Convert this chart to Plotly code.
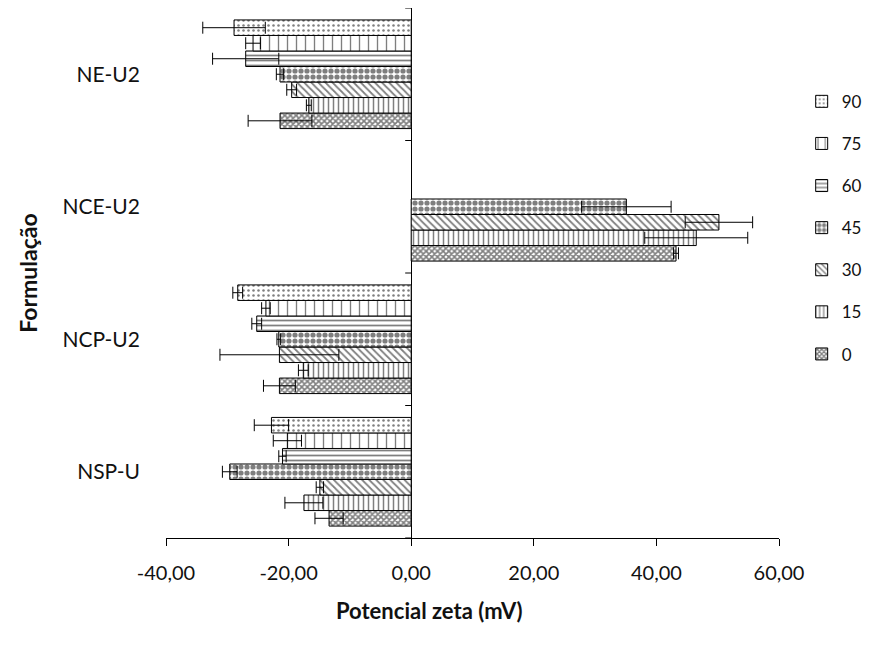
import plotly.graph_objects as go

categories = ["NSP-U", "NCP-U2", "NCE-U2", "NE-U2"]
series_names = ["0", "15", "30", "45", "60", "75", "90"]

values = {
    "0":  [-13.4, -21.5, 43.2, -21.4],
    "15": [-17.5, -17.6, 46.5, -16.7],
    "30": [-14.9, -21.5, 50.2, -19.5],
    "45": [-29.6, -21.6, 35.1, -21.4],
    "60": [-21.0, -25.2, None, -27.0],
    "75": [-20.2, -23.7, None, -25.8],
    "90": [-22.8, -28.3, None, -28.9],
}
errors = {
    "0":  [2.3, 2.6, 0.4, 5.2],
    "15": [3.1, 0.8, 8.4, 0.4],
    "30": [0.6, 9.7, 5.5, 0.8],
    "45": [1.2, 0.3, 7.3, 0.6],
    "60": [0.6, 0.8, None, 5.4],
    "75": [2.3, 0.7, None, 1.2],
    "90": [2.8, 0.8, None, 5.1],
}
x_ticks = [-40, -20, 0, 20, 40, 60]
x_tick_labels = ["-40,00", "-20,00", "0,00", "20,00", "40,00", "60,00"]
x_title = "Potencial zeta (mV)"
y_title = "Formulação"

patterns = {
    "0":  dict(shape="x", size=4, solidity=0.65),
    "15": dict(shape="|", size=5, solidity=0.3),
    "30": dict(shape="\\", size=5, solidity=0.35),
    "45": dict(shape=".", size=6, solidity=0.6),
    "60": dict(shape="-", size=5, solidity=0.35),
    "75": dict(shape="|", size=9, solidity=0.15),
    "90": dict(shape=".", size=5, solidity=0.2),
}

fig = go.Figure()
for i, name in enumerate(series_names):
    p = patterns[name]
    fig.add_trace(go.Bar(
        y=categories, x=values[name], name=name, orientation="h",
        legendgroup=name, legendrank=100 - i,
        marker=dict(color="white", line=dict(color="black", width=1),
                    pattern=dict(shape=p["shape"], size=p["size"], solidity=p["solidity"],
                                 fgcolor="black", bgcolor="white")),
        error_x=dict(type="data", array=errors[name], visible=True,
                     color="black", thickness=1, width=6),
    ))

boundaries = [i - 0.5 for i in range(len(categories) + 1)]
shapes = [dict(type="line", xref="x", yref="y", xsizemode="pixel", xanchor=0,
               x0=-6, x1=0, y0=b, y1=b, line=dict(color="black", width=1))
          for b in boundaries]

fig.update_layout(
    width=878, height=651,
    margin=dict(l=166, r=99, t=8, b=113, autoexpand=False),
    paper_bgcolor="white", plot_bgcolor="white",
    barmode="group", bargap=0.18, bargroupgap=0,
    font=dict(family="Lato, Open Sans, sans-serif", size=20, color="#111"),
    xaxis=dict(range=[-40, 60], tickvals=x_ticks, ticktext=x_tick_labels,
               showline=True, linecolor="black", linewidth=1,
               ticks="outside", ticklen=7, tickcolor="black",
               showgrid=False, zeroline=True, zerolinecolor="black", zerolinewidth=1,
               ticklabelstandoff=10, tickfont=dict(size=20)),
    yaxis=dict(categoryorder="array", categoryarray=categories,
               range=[-0.5, 3.5],
               showline=False, showgrid=False, ticks="", zeroline=False,
               ticklabelstandoff=25, tickfont=dict(size=21),
               title=dict(text="<b>" + y_title + "</b>", standoff=18, font=dict(size=23))),
    legend=dict(x=1.037, y=0.857, xanchor="left", yanchor="top",
                traceorder="grouped", tracegroupgap=17,
                font=dict(size=17), bgcolor="rgba(0,0,0,0)"),
    shapes=shapes,
    annotations=[dict(text="<b>" + x_title + "</b>", xref="paper", yref="paper",
                      x=0.43, y=-0.137, xanchor="center", yanchor="middle",
                      showarrow=False, font=dict(size=22))],
)

fig.write_html("out.html")
